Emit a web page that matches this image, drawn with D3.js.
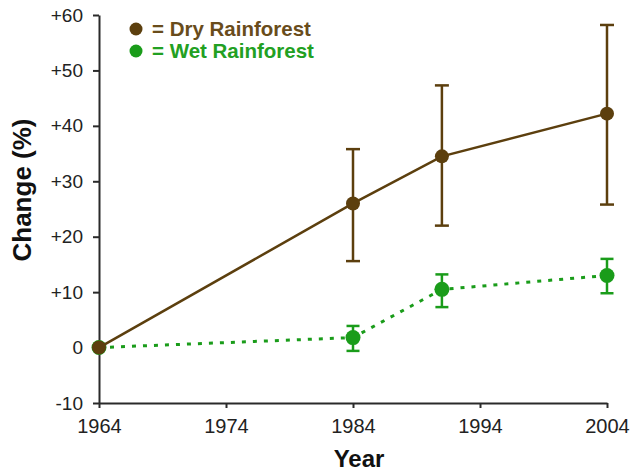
<!DOCTYPE html>
<html>
<head>
<meta charset="utf-8">
<script src="https://cdn.jsdelivr.net/npm/d3@7"></script>
<style>
    body { margin: 0; background: #fff; }
    svg text { font-family: "Liberation Sans", Arial, Helvetica, sans-serif; }
</style>
</head>
<body>
<div id="chart"></div>
<script>
// values
var years = [1964, 1984, 1991, 2004];
var dryMean = [0, 26, 34.5, 42.2];
var dryLow = [0, 15.6, 22, 25.8];
var dryHigh = [0, 35.8, 47.3, 58.2];
var wetMean = [0, 1.8, 10.5, 13];
var wetLow = [0, -0.6, 7.3, 9.8];
var wetHigh = [0, 3.9, 13.2, 16];
var xTicks = [1964, 1974, 1984, 1994, 2004];
var yTicks = [-10, 0, 10, 20, 30, 40, 50, 60];
var legendLabels = ["= Dry Rainforest", "= Wet Rainforest"];

(function (d3) {
    const width = 632, height = 471;
    const dryColor = '#5c3f0e', dryText = '#694c1b';
    const wetColor = '#1a9c1a', wetText = '#22a022';

    const svg = d3.select('#chart').append('svg')
        .attr('width', width)
        .attr('height', height);

    const x = d3.scaleLinear().domain([1964, 2004]).range([99, 607]);
    const y = d3.scaleLinear().domain([-10, 60]).range([403, 15]);

    // axes
    const yAxis = svg.append('g')
        .attr('transform', 'translate(99,0)')
        .call(d3.axisLeft(y).tickValues(yTicks).tickSize(6).tickSizeOuter(0).tickPadding(10)
            .tickFormat(d => d > 0 ? '+' + d : String(d)));
    const xAxis = svg.append('g')
        .attr('transform', 'translate(0,403)')
        .call(d3.axisBottom(x).tickValues(xTicks).tickSize(5).tickSizeOuter(0).tickPadding(11)
            .tickFormat(d3.format('d')));

    [yAxis, xAxis].forEach(g => {
        g.select('.domain').attr('stroke', '#2a2a2a').attr('stroke-width', 2);
        g.selectAll('.tick line').attr('stroke', '#2a2a2a').attr('stroke-width', 2);
        g.selectAll('.tick text').attr('fill', '#222').style('font-size', '19px');
    });
    xAxis.selectAll('.tick text').style('font-size', '20px');

    // axis titles
    svg.append('text')
        .attr('x', 359).attr('y', 467)
        .attr('text-anchor', 'middle')
        .style('font-size', '24px').style('font-weight', 'bold').attr('fill', '#111')
        .text('Year');
    svg.append('text')
        .attr('transform', 'translate(31,190) rotate(-90)')
        .attr('text-anchor', 'middle')
        .style('font-size', '26px').style('font-weight', 'bold').attr('fill', '#111')
        .text('Change (%)');

    const series = [
        {mean: wetMean, low: wetLow, high: wetHigh, color: wetColor, dash: '4,7', width: 3, r: 7.5, cap: 13},
        {mean: dryMean, low: dryLow, high: dryHigh, color: dryColor, dash: null, width: 2.5, r: 7, cap: 14}
    ];

    const line = d3.line()
        .x(d => x(d.year))
        .y(d => y(d.v));

    series.forEach(s => {
        const pts = years.map((yr, i) => ({year: yr, v: s.mean[i], lo: s.low[i], hi: s.high[i]}));
        const g = svg.append('g');

        g.append('path')
            .datum(pts)
            .attr('d', line)
            .attr('fill', 'none')
            .attr('stroke', s.color)
            .attr('stroke-width', s.width)
            .attr('stroke-dasharray', s.dash);

        const bars = pts.filter(d => d.hi !== d.lo);
        g.selectAll('.err')
            .data(bars)
            .enter().append('line')
            .attr('x1', d => x(d.year)).attr('x2', d => x(d.year))
            .attr('y1', d => y(d.lo)).attr('y2', d => y(d.hi))
            .attr('stroke', s.color).attr('stroke-width', 2.5);
        ['lo', 'hi'].forEach(k => {
            g.selectAll('.cap-' + k)
                .data(bars)
                .enter().append('line')
                .attr('x1', d => x(d.year) - s.cap / 2).attr('x2', d => x(d.year) + s.cap / 2)
                .attr('y1', d => y(d[k])).attr('y2', d => y(d[k]))
                .attr('stroke', s.color).attr('stroke-width', 2.5);
        });

        g.selectAll('circle')
            .data(pts)
            .enter().append('circle')
            .attr('cx', d => x(d.year))
            .attr('cy', d => y(d.v))
            .attr('r', s.r)
            .attr('fill', s.color);
    });

    // legend
    const legend = svg.append('g');
    const legendColors = [[dryColor, dryText], [wetColor, wetText]];
    legendLabels.forEach((lab, i) => {
        const cy = 29 + i * 22;
        legend.append('circle')
            .attr('cx', 136).attr('cy', cy).attr('r', 6.5)
            .attr('fill', legendColors[i][0]);
        legend.append('text')
            .attr('x', 152).attr('y', cy + 7)
            .style('font-size', '20.5px').style('font-weight', 'bold')
            .attr('fill', legendColors[i][1])
            .text(lab);
    });

})(d3);
</script>
</body>
</html>
